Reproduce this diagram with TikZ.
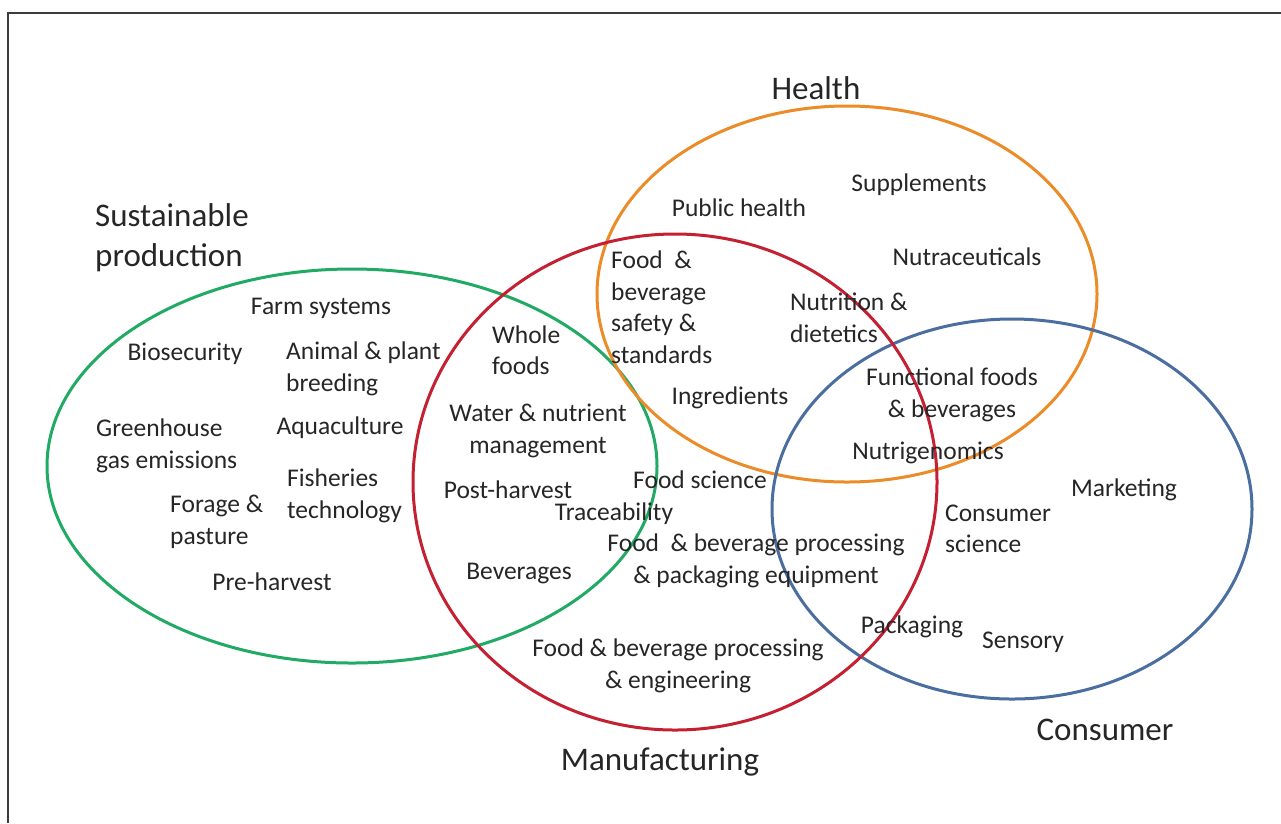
\documentclass[tikz,border=0pt]{standalone}
\usepackage{fontspec}
\setmainfont{Carlito}
\definecolor{cgreen}{RGB}{32,170,100}
\definecolor{cred}{RGB}{196,32,50}
\definecolor{corange}{RGB}{236,140,40}
\definecolor{cblue}{RGB}{74,110,160}
\definecolor{cframe}{RGB}{60,60,60}
\begin{document}
\begin{tikzpicture}[x=1pt,y=-1pt,
  ring/.style={line width=3pt},
  lbl/.style={inner sep=0pt,font=\fontsize{25.5}{31.5}\selectfont,text=black!85},
  big/.style={inner sep=0pt,font=\fontsize{33}{40}\selectfont,text=black!85}]
\useasboundingbox (0,0) rectangle (1281,823);
\fill[white] (0,0) rectangle (1281,823);
\draw[cframe,line width=2pt] (8,823) coordinate (fb) -- (8,13) coordinate (fc) -- (1281,13) coordinate (fd);
% ellipses
\draw[ring,cgreen] (352,466) ellipse [x radius=305pt,y radius=197pt];
\draw[ring,corange] (847,294) ellipse [x radius=250pt,y radius=188pt];
\draw[ring,cblue] (1012,509) ellipse [x radius=240pt,y radius=190pt];
\draw[ring,cred] (675,482) ellipse [x radius=262pt,y radius=248pt];
% category labels
\node[big] (health) at (816,88) {Health};
\node[big,anchor=west,align=left] (sust) at (95,238) {Sustainable\\production};
\node[big] (manu) at (660,762) {Manufacturing};
\node[big] (cons) at (1105,730) {Consumer};
% health
\node[lbl] (pub) at (739,208) {Public health};
\node[lbl] (supp) at (919,185) {Supplements};
\node[lbl] (nutra) at (967,257) {Nutraceuticals};
\node[lbl,anchor=west,align=left] (safety) at (611,307) {Food~~\&\\beverage\\safety \&\\standards};
\node[lbl,anchor=west,align=left] (nutr) at (790,318) {Nutrition \&\\dietetics};
\node[lbl] (ingr) at (730,398) {Ingredients};
\node[lbl,align=center] (func) at (952,395) {Functional foods\\\& beverages};
\node[lbl] (nutrig) at (928,453) {Nutrigenomics};
% sustainable
\node[lbl] (farm) at (321,308) {Farm systems};
\node[lbl] (bio) at (185,354) {Biosecurity};
\node[lbl,anchor=west,align=left] (animal) at (286,369) {Animal \& plant\\breeding};
\node[lbl,anchor=west,align=left] (green) at (96,446) {Greenhouse\\gas emissions};
\node[lbl] (aqua) at (340,428) {Aquaculture};
\node[lbl,anchor=west,align=left] (fish) at (287,496) {Fisheries\\technology};
\node[lbl,anchor=west,align=left] (forage) at (170,522) {Forage \&\\pasture};
\node[lbl] (pre) at (272,582) {Pre-harvest};
% manufacturing
\node[lbl,anchor=west,align=left] (whole) at (492,350) {Whole\\foods};
\node[lbl,align=center] (water) at (538,431) {Water \& nutrient\\management};
\node[lbl] (post) at (508,490) {Post-harvest};
\node[lbl] (fsci) at (700,480) {Food science};
\node[lbl] (trace) at (614,514) {Traceability};
\node[lbl,align=center] (equip) at (756,561) {Food~~\& beverage processing\\\& packaging equipment};
\node[lbl] (bev) at (519,573) {Beverages};
\node[lbl,align=center] (eng) at (678,666) {Food \& beverage processing\\\& engineering};
% consumer
\node[lbl] (mark) at (1124,490) {Marketing};
\node[lbl,anchor=west,align=left] (csci) at (945,529) {Consumer\\science};
\node[lbl] (pack) at (912,627) {Packaging};
\node[lbl] (sens) at (1023,642) {Sensory};
\end{tikzpicture}
\end{document}
